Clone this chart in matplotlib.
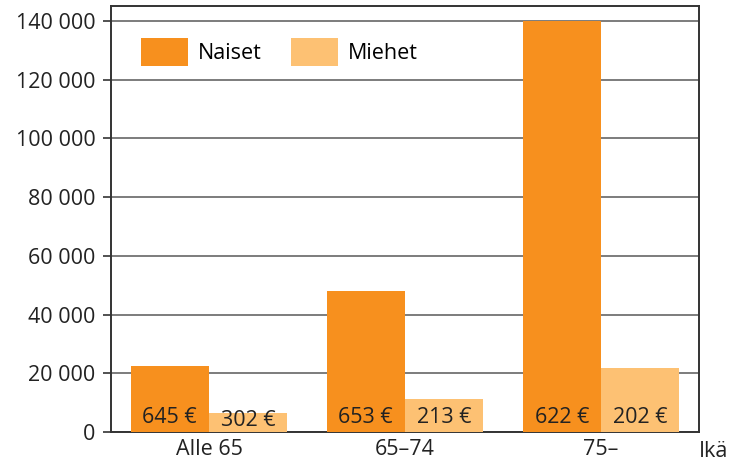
import numpy as np
import matplotlib.pyplot as plt

## Age groups, counts per sex and average amount labels
groups = ['Alle 65', '65–74', '75–']
naiset = [22500, 48000, 140000]
miehet = [6500, 11200, 21800]
naiset_lbl = ['645 €', '653 €', '622 €']
miehet_lbl = ['302 €', '213 €', '202 €']

plt.rcParams['font.family'] = ['Open Sans', 'DejaVu Sans']
fs = 15.5

fig = plt.figure(figsize=(7.31, 4.68), dpi=100)
ax = fig.add_axes([111/731, 1-432/468, 588/731, 426/468])

x = np.arange(len(groups))
w = 0.4
ax.bar(x - w/2, naiset, w, color='#F7901E', label='Naiset', zorder=3)
ax.bar(x + w/2, miehet, w, color='#FDC173', label='Miehet', zorder=3)

for i in range(len(groups)):
  ax.text(x[i] - w/2, 4800, naiset_lbl[i], ha='center', va='center', fontsize=fs, color='#222222', zorder=4)
  ax.text(x[i] + w/2, 3800 if miehet[i] < 8000 else 4800, miehet_lbl[i], ha='center', va='center', fontsize=fs, color='#222222', zorder=4)

ax.set_xlim(-0.5, 2.5)
ax.set_ylim(0, 145100)
ax.set_yticks(np.arange(0, 140001, 20000))
ax.set_yticklabels(['{:,}'.format(v).replace(',', ' ') for v in range(0, 140001, 20000)], fontsize=fs, color='#222222')
ax.set_xticks(x)
ax.set_xticklabels(groups, fontsize=fs, color='#222222')
ax.tick_params(axis='x', length=0, pad=5)
ax.tick_params(axis='y', length=6, color='#333333', width=1.2, pad=5)
ax.yaxis.grid(True, color='#666666', linewidth=1.2, zorder=0)
for s in ax.spines.values():
  s.set_color('#333333')
  s.set_linewidth(1.4)
ax.text(1.0, -0.022, 'Ikä', transform=ax.transAxes, ha='left', va='top', fontsize=fs, color='#222222')

ax.legend(loc='upper left', bbox_to_anchor=(0.018, 0.97), ncol=2, frameon=False, fontsize=fs,
          handlelength=2.2, handleheight=1.6, columnspacing=1.35, handletextpad=0.45)

plt.savefig('out.png', dpi=100)
